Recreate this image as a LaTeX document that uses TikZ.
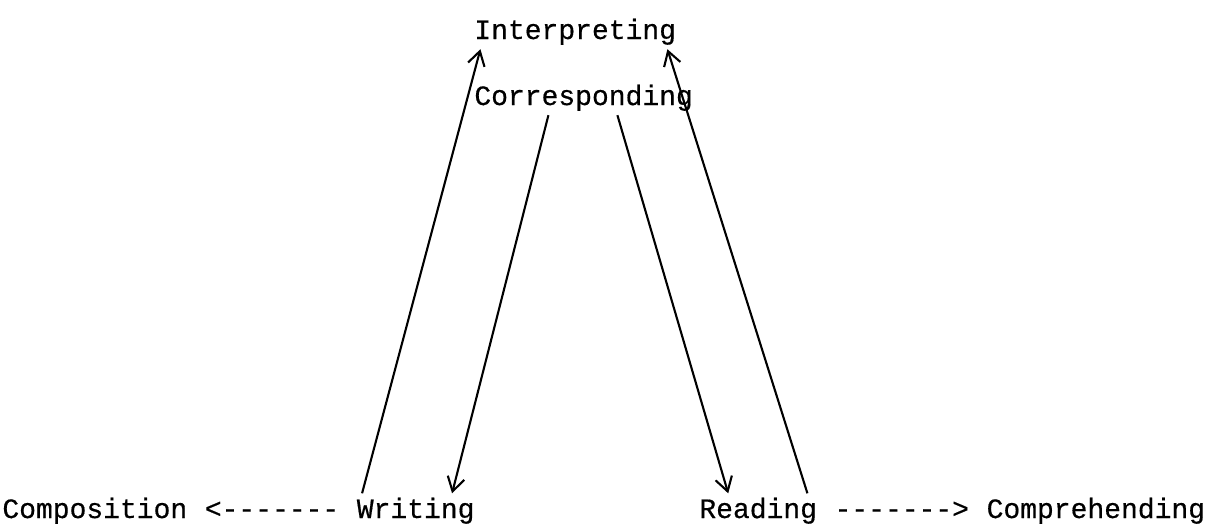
\documentclass[tikz,border=0pt]{standalone}
\usepackage{fontspec}
\setmonofont{Liberation Mono}[FakeBold=0.5]
\usetikzlibrary{positioning,arrows.meta}
\tikzstyle{word} = [font=\ttfamily\fontsize{14pt}{16pt}\selectfont, inner sep=2pt]
\tikzstyle{link} = [-{Straight Barb[length=7pt,width=8.5pt]}, line width=1.05pt]

\begin{document}
\begin{tikzpicture}[x=0.5pt, y=-0.5pt, node distance=4.4pt]
	\useasboundingbox (0,0) rectangle (1206,525);
	\node (interp) [word, anchor=base west] at (470,39) {Interpreting};
	\node (corr) [word, anchor=base west] at (470,105) {Corresponding};
	\node (comp) [word, anchor=base west] at (-2,518) {Composition};
	\node (leftarr) [word, base right=of comp] {<-------};
	\node (writing) [word, base right=of leftarr] {Writing};
	\node (reading) [word, anchor=base west] at (695,518) {Reading};
	\node (rightarr) [word, base right=of reading] {------->};
	\node (compr) [word, base right=of rightarr] {Comprehending};
	\draw [link] ([xshift=-26.8pt]writing.north) -- ([xshift=-47.4pt]interp.south);
	\draw [link] ([xshift=-17.6pt]corr.south) -- ([xshift=18.2pt]writing.north);
	\draw [link] ([xshift=16.9pt]corr.south) -- ([xshift=-15pt]reading.north);
	\draw [link] ([xshift=24.6pt]reading.north) -- ([xshift=46.1pt]interp.south);
\end{tikzpicture}
\end{document}
